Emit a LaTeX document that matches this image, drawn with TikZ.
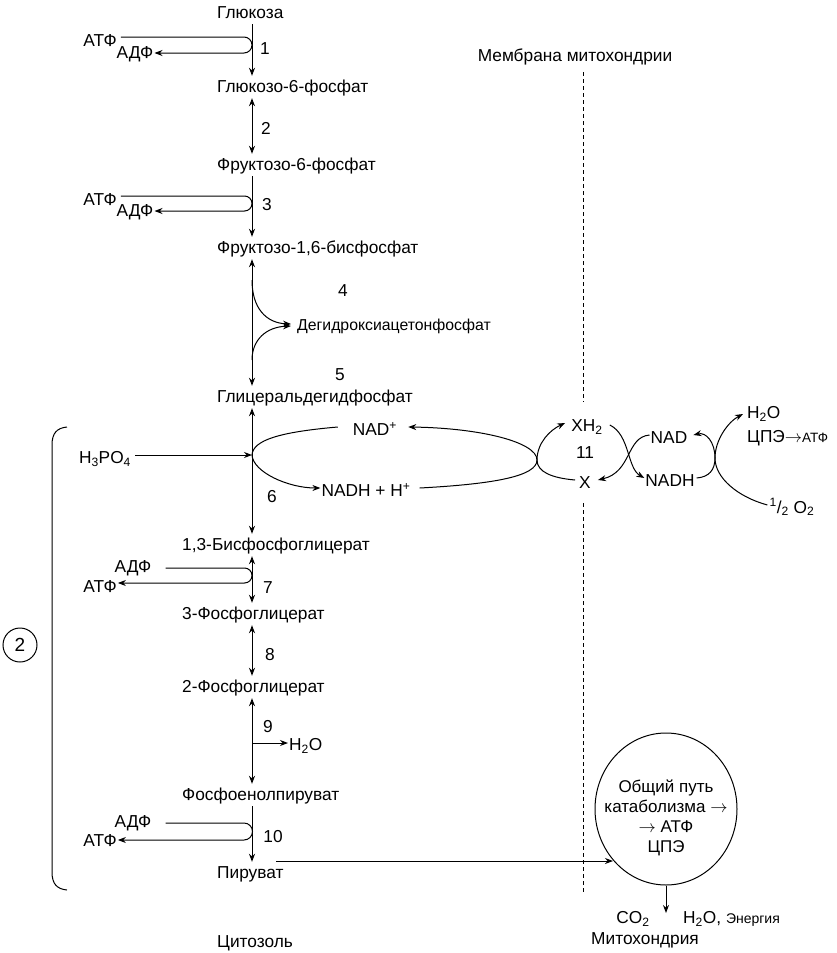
\documentclass[tikz,border=0pt]{standalone}
\usepackage{fontspec}
\setmainfont{Liberation Sans}
\usetikzlibrary{arrows.meta,shapes.geometric,calc}
\begin{document}
\begin{tikzpicture}[x=1pt,y=-1pt,
  every node/.style={inner sep=1pt, font=\fontsize{17.3}{20}\selectfont},
  met/.style={anchor=west, inner xsep=0pt, inner ysep=3.5pt, text height=13pt, text depth=2pt},
  fixh/.style={text height=13pt, text depth=2pt},
  smallf/.style={font=\fontsize{15.8}{18}\selectfont},
  arr/.style={-{Stealth[length=8pt,width=6pt]}, line width=1pt},
  darr/.style={{Stealth[length=8pt,width=6pt]}-{Stealth[length=8pt,width=6pt]}, line width=1pt},
  ln/.style={line width=1pt},
  memb/.style={line width=0.9pt, dash pattern=on 4pt off 3pt},
  ]
\useasboundingbox (0,0) rectangle (837,953);
\coordinate (ax) at (252,0);

% metabolites
\node[met] (glc) at (217,13) {Глюкоза};
\node[met] (g6p) at (217,87) {Глюкозо-6-фосфат};
\node[met] (f6p) at (217,165) {Фруктозо-6-фосфат};
\node[met] (f16) at (217,248) {Фруктозо-1,6-бисфосфат};
\node[met,smallf] (dhap) at (297,325) {Дегидроксиацетонфосфат};
\node[met] (gap) at (217,397) {Глицеральдегидфосфат};
\node[met] (bpg) at (182,545) {1,3-Бисфосфоглицерат};
\node[met] (pg3) at (182,614) {3-Фосфоглицерат};
\node[met] (pg2) at (182,687) {2-Фосфоглицерат};
\node[met] (pep) at (182,795) {Фосфоенолпируват};
\node[met] (pyr) at (217,873) {Пируват};
\node[met] (cyt) at (217,942) {Цитозоль};

% step numbers
\node (n1) at (265,49) {1};
\node (n2) at (266,128) {2};
\node (n3) at (267,205) {3};
\node (n4) at (343,291) {4};
\node (n5) at (340,375) {5};
\node (n6) at (272,497) {6};
\node (n7) at (268,588) {7};
\node (n8) at (270,655) {8};
\node (n9) at (268,727) {9};
\node (n10) at (273,837) {10};
\node (n11) at (585,453) {11};

% main arrows
\draw[arr] (glc.south -| ax) -- (g6p.north -| ax);
\draw[darr] (g6p.south -| ax) -- (f6p.north -| ax);
\draw[arr] (f6p.south -| ax) -- (f16.north -| ax);
\draw[darr] (f16.south -| ax) -- (gap.north -| ax);
\draw[darr] (gap.south -| ax) -- (bpg.north -| ax);
\draw[darr] (bpg.south -| ax) -- (pg3.north -| ax);
\draw[darr] (pg3.south -| ax) -- (pg2.north -| ax);
\draw[darr] (pg2.south -| ax) -- (pep.north -| ax);
\draw[arr] (pep.south -| ax) -- (pyr.north -| ax);

% ATP/ADP loops
\node (atp1) at (100,41) {АТФ};
\node (adp1) at (135,54) {АДФ};
\coordinate (l1) at (244,37);
\draw[arr, shorten <=3pt] (atp1.east |- l1) -- (l1) arc[start angle=90, end angle=-90, radius=8pt] -- (adp1.east |- 0,53);

\node (atp3) at (100,200) {АТФ};
\node (adp3) at (135,212) {АДФ};
\coordinate (l3) at (244.5,196);
\draw[arr, shorten <=3pt] (atp3.east |- l3) -- (l3) arc[start angle=90, end angle=-90, radius=7.5pt] -- (adp3.east |- 0,211);

\node (adp7) at (133,568) {АДФ};
\node (atp7) at (100,587) {АТФ};
\coordinate (l7) at (244.5,568);
\coordinate (l7b) at (244.5,583);
\draw[arr, shorten <=13pt] (adp7.east) -- (l7) arc[start angle=90, end angle=-90, radius=7.5pt] -- (atp7.east |- l7b);

\node (adp10) at (133,823) {АДФ};
\node (atp10) at (100,841) {АТФ};
\coordinate (l10) at (244,823);
\coordinate (l10b) at (244,840);
\draw[arr, shorten <=13pt] (adp10.east) -- (l10) arc[start angle=90, end angle=-90, radius=8.5pt] -- (atp10.east |- l10b);

% steps 4/5
\coordinate (b4) at (252,280);
\coordinate (b5) at (252,360);
\draw[arr] (b4) .. controls (252,308) and (266,323) .. ([xshift=-6pt,yshift=1pt]dhap.west);
\draw[arr] (b5) .. controls (252,340) and (266,327) .. ([xshift=-6pt,yshift=-1pt]dhap.west);

% step 6
\node[fixh] (h3po4) at (105,458) {H\textsubscript{3}PO\textsubscript{4}};
\coordinate (lp) at (252,455);
\draw[arr, shorten <=3pt] (h3po4.east |- lp) -- (lp);
\node[fixh] (nadp) at (375,430) {NAD\textsuperscript{+}};
\node[fixh] (nadh) at (366,491) {NADH + H\textsuperscript{+}};
\draw[arr] ([xshift=-14pt,yshift=3pt]nadp.west) .. controls (280,432) and (253,440) .. (lp) .. controls (253,472) and (288,488) .. ([yshift=3pt]nadh.west);

\node[fixh] (xh2) at (587,426) {XH\textsubscript{2}};
\node[fixh] (xn) at (585,483) {X};
\coordinate (T) at (537,460);
\draw[arr] ([xshift=8pt,yshift=3pt]nadh.east) .. controls (495,484) and (537,476) .. (T) .. controls (537,443) and (550,430) .. ([xshift=-5pt,yshift=3pt]xh2.west);
\draw[arr] ([xshift=-3pt,yshift=3pt]xn.west) .. controls (552,478) and (537,472) .. (T) .. controls (537,442) and (480,428) .. ([xshift=10pt,yshift=3pt]nadp.east);

% mitochondrial NAD/NADH
\node[fixh] (nad2) at (669,438) {NAD};
\node[fixh] (nadh2) at (670,481) {NADH};
\draw[arr] ([xshift=6pt,yshift=1pt]xh2.east) .. controls (630,435) and (627,468) .. ([yshift=3pt]nadh2.west);
\draw[arr] ([yshift=3pt]nad2.west) .. controls (626,437) and (632,472) .. ([xshift=6pt,yshift=3pt]xn.east);

\node[fixh, anchor=west] (h2o) at (746,413) {H\textsubscript{2}O};
\node[anchor=west] (cpe) at (746,438) {ЦПЭ$\rightarrow${\fontsize{13.5}{16}\selectfont АТФ}};
\node (half) at (792,507) {\textsuperscript{1}/\textsubscript{2} O\textsubscript{2}};
\coordinate (T2) at (715,458);
\draw[arr] ([xshift=1pt,yshift=3pt]nadh2.east) .. controls (709,477) and (715,470) .. (T2) .. controls (715,440) and (728,422) .. ([xshift=-3pt,yshift=-1pt]h2o.west);
\draw[arr] ([xshift=-1pt,yshift=2pt]half.west) .. controls (738,497) and (715,478) .. (T2) .. controls (715,442) and (706,432) .. ([xshift=5pt,yshift=3pt]nad2.east);

% membrane
\node (mlab) at (575,57) {Мембрана митохондрии};
\coordinate (m1) at (583,72);
\coordinate (m2) at (583,402);
\coordinate (m3) at (583,503);
\coordinate (m4) at (583,893);
\draw[memb] (m1) -- (m2);
\draw[memb] (m3) -- (m4);

% step 9
\coordinate (b9) at (252,743);
\node[fixh, anchor=west] (h2o9) at (288,745) {H\textsubscript{2}O};
\draw[arr] (b9) -- (b9 -| h2o9.west);

% mitochondrion
\node[ellipse, draw, ln, minimum width=142pt, minimum height=152pt, inner sep=0pt] (circ) at (666,809) {};
\node[align=center, font=\fontsize{17}{20}\selectfont] (ctext) at (666,818) {Общий путь\\катаболизма $\rightarrow$\\$\rightarrow$ АТФ\\ЦПЭ};
\coordinate (pyrl) at (276,861);
\coordinate (cin) at (613,861);
\draw[arr] (pyrl) -- (cin);
\coordinate (down) at (666,913);
\draw[arr] (circ.south) -- (down);
\node[fixh] (co2) at (633,918) {CO\textsubscript{2}};
\node[fixh, anchor=west] (h2oe) at (682,918) {H\textsubscript{2}O, {\fontsize{14}{16}\selectfont Энергия}};
\node (mito) at (645,940) {Митохондрия};

% bracket
\draw[ln] (67,427) .. controls (57,428) and (52,433) .. (52,445) -- (52,872) .. controls (52,884) and (57,889) .. (67,890);
\node[circle, draw, ln, minimum size=34pt, inner sep=0pt, font=\fontsize{19}{22}\selectfont] (c2) at (20,645) {2};
\end{tikzpicture}
\end{document}
